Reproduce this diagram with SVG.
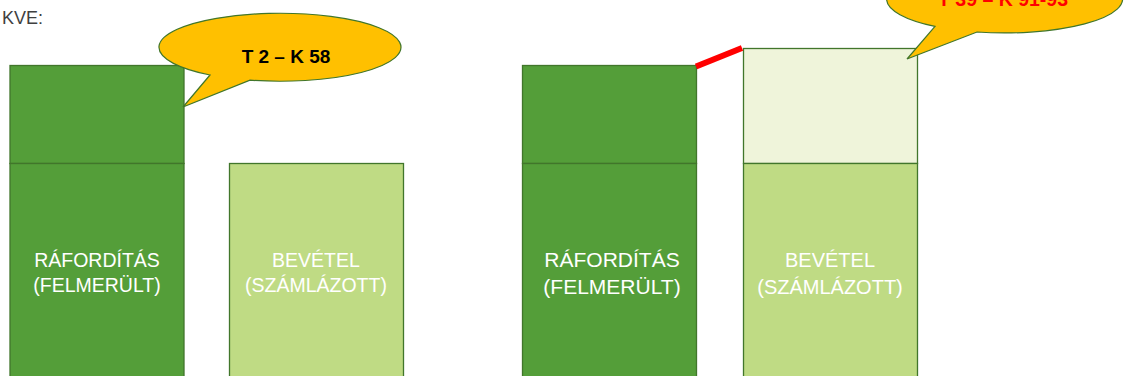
<svg xmlns="http://www.w3.org/2000/svg" width="1126" height="376" viewBox="0 0 1126 376">
<style>
.dark{fill:#549e39;stroke:#41762b;stroke-width:1.3}
.light{fill:#bfdb84;stroke:#41762b;stroke-width:1.3}
.pale{fill:#eff4da;stroke:#41762b;stroke-width:1.3}
.call{fill:#ffc000;stroke:#41762b;stroke-width:1.2}
.lbl{font-family:"Liberation Sans",Arial,sans-serif;fill:#ffffff;text-anchor:middle}
.ct{font-family:"Liberation Sans",Arial,sans-serif;font-weight:bold;text-anchor:middle}
</style>
<rect width="1126" height="376" fill="#ffffff"/>
<text x="43" y="24" font-family="'Liberation Sans',Arial,sans-serif" font-size="18" fill="#404040" text-anchor="end">KVE:</text>
<g id="left-raf">
<rect class="dark" x="10" y="65.5" width="174" height="98"/>
<rect class="dark" x="10" y="163.5" width="174" height="230"/>
<text class="lbl" font-size="19.5" x="97" y="267">RÁFORDÍTÁS</text>
<text class="lbl" font-size="19.5" x="97" y="292">(FELMERÜLT)</text>
</g>
<g id="left-bev">
<rect class="light" x="229.5" y="163.5" width="174" height="230"/>
<text class="lbl" font-size="19.5" x="316" y="267">BEVÉTEL</text>
<text class="lbl" font-size="19.5" x="316" y="292">(SZÁMLÁZOTT)</text>
</g>
<g id="callout1">
<path class="call" d="M210,75 L183,107 L250,80.2 A121 34 0 1 0 210,75 Z"/>
<text class="ct" font-size="19" x="286" y="63" fill="#000000">T 2 – K 58</text>
</g>
<g id="right-raf">
<rect class="dark" x="522.5" y="65.5" width="174" height="98"/>
<rect class="dark" x="522.5" y="163.5" width="174" height="230"/>
<text class="lbl" font-size="21" x="612" y="267">RÁFORDÍTÁS</text>
<text class="lbl" font-size="21" x="612" y="294">(FELMERÜLT)</text>
</g>
<g id="right-bev">
<rect class="pale" x="743.5" y="48.5" width="174" height="115"/>
<rect class="light" x="743.5" y="163.5" width="174" height="230"/>
<text class="lbl" font-size="20" x="830" y="267">BEVÉTEL</text>
<text class="lbl" font-size="20" x="830" y="294">(SZÁMLÁZOTT)</text>
</g>
<g id="callout2">
<path class="call" d="M935,26.4 L907,59 L977,32 A118 34 0 1 0 935,26.4 Z"/>
<text class="ct" font-size="19.5" x="1003" y="6" fill="#ff0000">T 39 – K 91-93</text>
</g>
<g id="connectors">
<line x1="696" y1="66.5" x2="742" y2="48" stroke="#ff0000" stroke-width="6"/>
</g>
</svg>
